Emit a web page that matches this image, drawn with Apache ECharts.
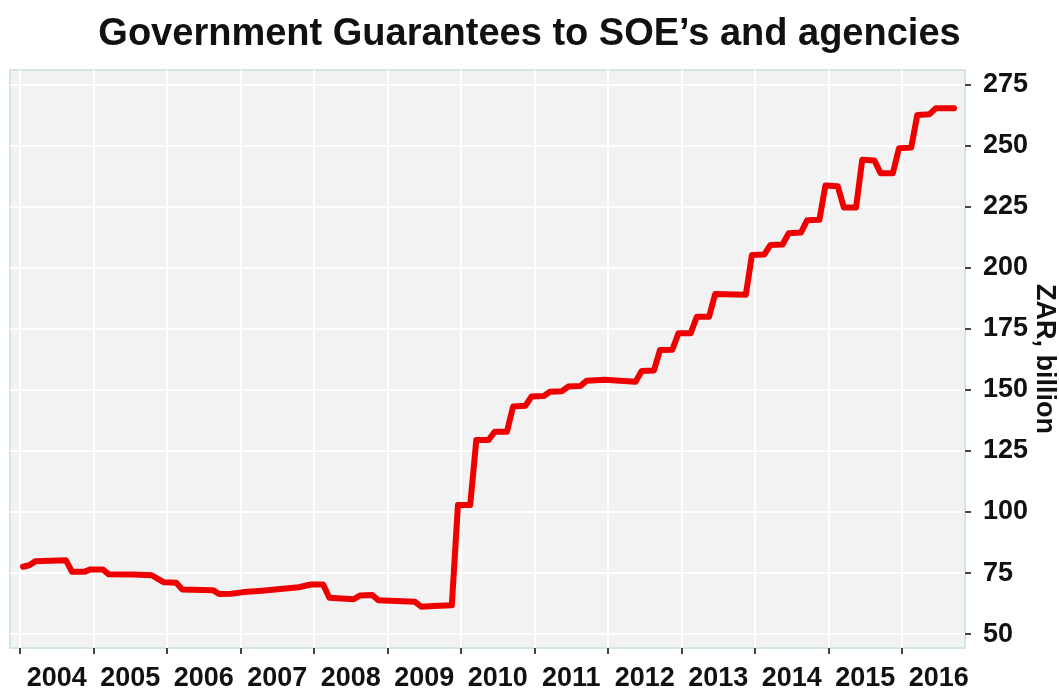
<!DOCTYPE html>
<html>
<head>
<meta charset="utf-8">
<title>Government Guarantees</title>
<script src="https://cdn.jsdelivr.net/npm/echarts@6/dist/echarts.min.js"></script>
<style>
    html, body { margin: 0; padding: 0; background: #fff; }
    #main { width: 1059px; height: 692px; }
</style>
</head>
<body>
<div id="main"></div>
<script>
// 数据：折线拐点（月份, ZAR billion）
var months = [
    '2004-01', '2004-02', '2004-03', '2004-08', '2004-09', '2004-11', '2004-12',
    '2005-02', '2005-03', '2005-07', '2005-10', '2005-12',
    '2006-02', '2006-03', '2006-08', '2006-09', '2006-11',
    '2007-01', '2007-04', '2007-07', '2007-10', '2007-12',
    '2008-02', '2008-03', '2008-07', '2008-08', '2008-10', '2008-11',
    '2009-05', '2009-06', '2009-08', '2009-11', '2009-12',
    '2010-02', '2010-03', '2010-05', '2010-06', '2010-08', '2010-09', '2010-11', '2010-12',
    '2011-02', '2011-03', '2011-05', '2011-06', '2011-08', '2011-09', '2011-12',
    '2012-05', '2012-06', '2012-08', '2012-09', '2012-11', '2012-12',
    '2013-02', '2013-03', '2013-05', '2013-06', '2013-11', '2013-12',
    '2014-02', '2014-03', '2014-05', '2014-06', '2014-08', '2014-09', '2014-11', '2014-12',
    '2015-02', '2015-03', '2015-05', '2015-06', '2015-08', '2015-09', '2015-11', '2015-12',
    '2016-02', '2016-03', '2016-05', '2016-06', '2016-09'
];
var values = [
    77.6, 78.2, 79.8, 80.2, 75.5, 75.5, 76.5,
    76.5, 74.5, 74.4, 74.1, 71.2,
    71.0, 68.3, 68.0, 66.4, 66.5,
    67.2, 67.8, 68.5, 69.2, 70.3,
    70.3, 64.9, 64.3, 65.8, 66.0, 63.9,
    63.2, 61.2, 61.5, 61.8, 102.9,
    102.9, 129.5, 129.5, 132.9, 132.9, 143.2, 143.5, 147.3,
    147.5, 149.3, 149.5, 151.4, 151.6, 153.8, 154.2,
    153.4, 157.8, 158.0, 166.4, 166.5, 173.2,
    173.3, 180.0, 180.0, 189.3, 189.0, 205.3,
    205.5, 209.4, 209.6, 214.2, 214.5, 219.5, 219.7, 233.8,
    233.5, 224.8, 224.8, 244.3, 244.0, 238.8, 238.8, 249.0,
    249.3, 262.7, 263.0, 265.4, 265.4
];
var years = [2004, 2005, 2006, 2007, 2008, 2009, 2010, 2011, 2012, 2013, 2014, 2015, 2016];
var yTicks = [50, 75, 100, 125, 150, 175, 200, 225, 250, 275];

// 月份 -> 小数年（取月中）
function toYear(m) {
    var p = m.split('-');
    return parseInt(p[0], 10) + (parseInt(p[1], 10) - 0.5) / 12;
}

var seriesData = [];
for (var i = 0; i < months.length; i++) {
    seriesData.push([toYear(months[i]), values[i]]);
}

var font = 'Liberation Sans, Arial, sans-serif';
var myChart = echarts.init(document.getElementById('main'));
var option = {
    animation: false,
    title: {
        text: 'Government Guarantees to SOE\u2019s and agencies',
        left: 'center',
        top: 11,
        textStyle: { fontFamily: font, fontSize: 38, fontWeight: 'bold', color: '#111' }
    },
    grid: {
        left: 10,
        right: 94,
        top: 70,
        bottom: 44,
        outerBoundsMode: 'none',
        containLabel: false,
        show: true,
        backgroundColor: '#f2f2f2',
        borderColor: '#d3e5e7',
        borderWidth: 2
    },
    xAxis: {
        type: 'value',
        min: 2003.864,
        max: 2016.857,
        axisLine: { show: false },
        axisTick: {
            show: true,
            length: 6,
            customValues: years,
            lineStyle: { color: '#444', width: 2 }
        },
        axisLabel: {
            customValues: years.map(function (y) { return y + 0.5; }),
            margin: 17,
            fontFamily: font,
            fontSize: 27,
            fontWeight: 'bold',
            color: '#111',
            formatter: function (v) { return Math.floor(v); }
        },
        splitLine: { show: true, lineStyle: { color: '#ffffff', width: 2 } }
    },
    yAxis: {
        type: 'value',
        position: 'right',
        min: 44.3,
        max: 281.1,
        name: 'ZAR, billion',
        nameLocation: 'middle',
        nameRotate: -90,
        nameGap: 66,
        nameMoveOverlap: false,
        nameTextStyle: { fontFamily: font, fontSize: 27, fontWeight: 'bold', color: '#111' },
        axisLine: { show: false },
        axisTick: {
            show: true,
            length: 6,
            customValues: yTicks,
            lineStyle: { color: '#444', width: 2 }
        },
        axisLabel: {
            customValues: yTicks,
            margin: 18,
            fontFamily: font,
            fontSize: 27,
            fontWeight: 'bold',
            color: '#111'
        },
        splitLine: { show: true, lineStyle: { color: '#ffffff', width: 2 } }
    },
    series: [{
        name: 'Guarantees',
        type: 'line',
        data: seriesData,
        symbol: 'none',
        lineStyle: { color: '#ee0000', width: 6, join: 'round', cap: 'round' }
    }]
};
myChart.setOption(option);
</script>
</body>
</html>
